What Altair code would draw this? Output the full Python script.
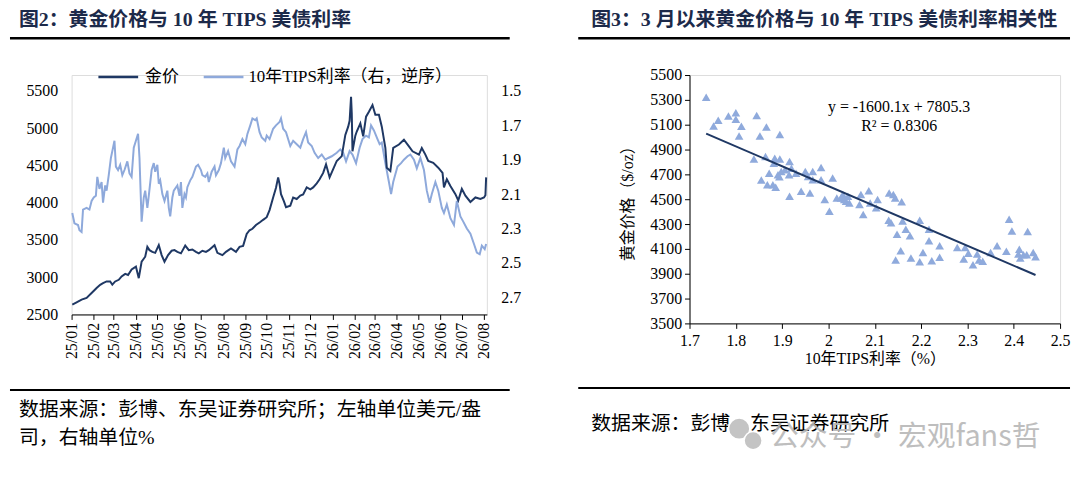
import altair as alt
import pandas as pd

# ---------------- data ----------------
gold_dates = [
    "2025-01-02", "2025-01-08", "2025-01-15", "2025-01-22", "2025-01-29", "2025-02-05", "2025-02-10",
    "2025-02-14", "2025-02-19", "2025-02-24", "2025-02-27", "2025-03-03", "2025-03-08", "2025-03-12",
    "2025-03-17", "2025-03-21", "2025-03-26", "2025-04-01", "2025-04-05", "2025-04-09", "2025-04-14",
    "2025-04-17", "2025-04-20", "2025-04-24", "2025-04-28", "2025-05-03", "2025-05-07", "2025-05-11",
    "2025-05-16", "2025-05-21", "2025-05-25", "2025-05-29", "2025-06-03", "2025-06-09", "2025-06-14",
    "2025-06-19", "2025-06-24", "2025-06-28", "2025-07-03", "2025-07-08", "2025-07-12", "2025-07-20",
    "2025-07-24", "2025-07-31", "2025-08-05", "2025-08-12", "2025-08-19", "2025-08-24", "2025-08-29",
    "2025-09-03", "2025-09-07", "2025-09-11", "2025-09-16", "2025-09-22", "2025-09-26", "2025-10-01",
    "2025-10-05", "2025-10-10", "2025-10-14", "2025-10-17", "2025-10-19", "2025-10-21", "2025-10-25",
    "2025-10-28", "2025-11-03", "2025-11-07", "2025-11-12", "2025-11-17", "2025-11-21", "2025-11-26",
    "2025-12-01", "2025-12-05", "2025-12-10", "2025-12-14", "2025-12-19", "2025-12-23", "2025-12-28",
    "2026-01-02", "2026-01-07", "2026-01-14", "2026-01-19", "2026-01-23", "2026-01-25", "2026-01-27",
    "2026-01-28", "2026-01-29", "2026-02-02", "2026-02-04", "2026-02-09", "2026-02-13", "2026-02-17",
    "2026-02-21", "2026-02-26", "2026-03-02", "2026-03-07", "2026-03-11", "2026-03-16", "2026-03-18",
    "2026-03-23", "2026-03-27", "2026-04-04", "2026-04-11", "2026-04-18", "2026-04-23", "2026-05-02",
    "2026-05-06", "2026-05-11", "2026-05-15", "2026-05-22", "2026-05-29", "2026-06-04", "2026-06-06",
    "2026-06-10", "2026-06-15", "2026-06-22", "2026-06-26", "2026-07-01", "2026-07-06", "2026-07-13",
    "2026-07-20", "2026-07-27", "2026-08-01", "2026-08-03", "2026-08-04",
]
gold_values = [
    2633, 2663, 2699, 2721, 2787, 2854, 2898,
    2920, 2943, 2943, 2899, 2943, 2965, 3010,
    3044, 3030, 3105, 3142, 2987, 3208, 3275,
    3407, 3363, 3340, 3327, 3430, 3297, 3208,
    3297, 3355, 3363, 3340, 3320, 3425, 3363,
    3372, 3340, 3320, 3355, 3340, 3363, 3430,
    3327, 3296, 3340, 3385, 3340, 3407, 3420,
    3580, 3630, 3650, 3700, 3740, 3770, 3805,
    3900, 4070, 4200, 4340, 4250, 4115, 4020,
    3940, 3960, 4070, 4050, 4095, 4110, 4205,
    4180, 4205, 4260, 4315, 4400, 4515, 4340,
    4450, 4560, 4625, 4910, 5020, 5100, 5420,
    5200, 4690, 4900, 4955, 5065, 4890, 5155,
    5220, 5310, 5180, 5180, 5020, 4735, 4470,
    4425, 4735, 4780, 4845, 4755, 4690, 4645,
    4735, 4645, 4560, 4535, 4470, 4400, 4205,
    4315, 4225, 4115, 4030, 4185, 4095, 4010,
    4070, 4050, 4070, 4100, 4340,
]

tips_dates = [
    "2025-01-02", "2025-01-03", "2025-01-05", "2025-01-10", "2025-01-12", "2025-01-15", "2025-01-17",
    "2025-01-22", "2025-01-26", "2025-01-29", "2025-02-01", "2025-02-04", "2025-02-06", "2025-02-09",
    "2025-02-12", "2025-02-14", "2025-02-17", "2025-02-19", "2025-02-22", "2025-02-25", "2025-02-28",
    "2025-03-02", "2025-03-04", "2025-03-07", "2025-03-10", "2025-03-13", "2025-03-16", "2025-03-20",
    "2025-03-23", "2025-03-26", "2025-03-29", "2025-04-01", "2025-04-04", "2025-04-06", "2025-04-09",
    "2025-04-12", "2025-04-14", "2025-04-17", "2025-04-19", "2025-04-23", "2025-04-26", "2025-04-28",
    "2025-05-01", "2025-05-03", "2025-05-05", "2025-05-08", "2025-05-11", "2025-05-15", "2025-05-17",
    "2025-05-19", "2025-05-22", "2025-05-24", "2025-05-29", "2025-06-01", "2025-06-03", "2025-06-05",
    "2025-06-08", "2025-06-10", "2025-06-12", "2025-06-16", "2025-06-19", "2025-06-24", "2025-06-27",
    "2025-07-01", "2025-07-03", "2025-07-07", "2025-07-10", "2025-07-12", "2025-07-16", "2025-07-20",
    "2025-07-22", "2025-07-26", "2025-07-29", "2025-08-02", "2025-08-04", "2025-08-08", "2025-08-12",
    "2025-08-17", "2025-08-21", "2025-08-24", "2025-08-28", "2025-09-01", "2025-09-04", "2025-09-08",
    "2025-09-11", "2025-09-15", "2025-09-17", "2025-09-21", "2025-09-24", "2025-09-29", "2025-10-01",
    "2025-10-05", "2025-10-10", "2025-10-14", "2025-10-19", "2025-10-21", "2025-10-24", "2025-10-28",
    "2025-11-03", "2025-11-07", "2025-11-12", "2025-11-17", "2025-11-21", "2025-11-25", "2025-11-28",
    "2025-12-03", "2025-12-07", "2025-12-12", "2025-12-17", "2025-12-22", "2025-12-26", "2025-12-31",
    "2026-01-07", "2026-01-12", "2026-01-16", "2026-01-20", "2026-01-25", "2026-01-29", "2026-02-03",
    "2026-02-08", "2026-02-12", "2026-02-17", "2026-02-21", "2026-02-24", "2026-02-28", "2026-03-05",
    "2026-03-08", "2026-03-11", "2026-03-16", "2026-03-21", "2026-03-24", "2026-03-27", "2026-04-02",
    "2026-04-07", "2026-04-11", "2026-04-16", "2026-04-20", "2026-04-25", "2026-04-29", "2026-05-04",
    "2026-05-09", "2026-05-13", "2026-05-17", "2026-05-20", "2026-05-25", "2026-05-29", "2026-06-03",
    "2026-06-06", "2026-06-10", "2026-06-15", "2026-06-20", "2026-06-24", "2026-06-29", "2026-07-03",
    "2026-07-08", "2026-07-13", "2026-07-18", "2026-07-22", "2026-07-26", "2026-07-29", "2026-08-02",
    "2026-08-04",
]
tips_values = [
    2.21, 2.23, 2.27, 2.28, 2.31, 2.32, 2.19,
    2.18, 2.19, 2.14, 2.12, 2.11, 2.00, 2.07,
    2.03, 2.15, 2.05, 2.08, 1.99, 1.89, 1.83,
    1.79, 1.94, 1.96, 1.93, 1.99, 1.96, 1.91,
    1.98, 2.00, 1.83, 1.79, 1.75, 1.89, 2.26,
    2.12, 2.08, 2.18, 2.11, 1.96, 1.92, 1.97,
    1.93, 2.04, 2.02, 2.10, 2.14, 2.08, 2.18,
    2.23, 2.12, 2.08, 2.05, 2.11, 2.03, 2.18,
    2.10, 2.12, 2.06, 2.02, 2.00, 1.94, 1.93,
    1.96, 1.99, 2.00, 1.98, 2.03, 1.97, 1.94,
    1.99, 1.96, 1.92, 1.83, 1.89, 1.85, 1.91,
    1.94, 1.84, 1.82, 1.78, 1.81, 1.75, 1.70,
    1.66, 1.67, 1.66, 1.74, 1.77, 1.79, 1.76,
    1.78, 1.72, 1.70, 1.68, 1.66, 1.72, 1.74,
    1.82, 1.79, 1.81, 1.83, 1.78, 1.74, 1.80,
    1.82, 1.86, 1.89, 1.87, 1.90, 1.89, 1.88,
    1.86, 1.84, 1.86, 1.91, 1.85, 1.87, 1.92,
    1.83, 1.78, 1.76, 1.77, 1.70, 1.73, 1.78,
    1.81, 1.80, 1.92, 2.03, 2.10, 2.03, 1.94,
    1.92, 1.90, 1.88, 1.87, 1.90, 1.95, 1.89,
    1.96, 2.08, 2.15, 2.10, 2.03, 2.08, 2.18,
    2.21, 2.16, 2.24, 2.28, 2.14, 2.23, 2.26,
    2.30, 2.33, 2.39, 2.44, 2.45, 2.40, 2.42,
    2.39,
]

scatter_tips = [
    1.736, 1.752, 1.762, 1.784, 1.800, 1.800, 1.812, 1.807, 1.845, 1.852,
    1.866, 1.895, 1.839, 1.864, 1.872, 1.855, 1.868, 1.880, 1.886, 1.884,
    1.895, 1.882, 1.891, 1.898, 1.894, 1.906, 1.916, 1.915, 1.920, 1.930,
    1.916, 1.941, 1.950, 1.956, 1.960, 1.966, 1.966, 1.984, 1.984, 1.992,
    2.002, 2.009, 2.018, 2.027, 2.031, 2.034, 2.038, 2.042, 2.045, 2.067,
    2.070, 2.075, 2.087, 2.090, 2.103, 2.106, 2.131, 2.140, 2.144, 2.130,
    2.135, 2.148, 2.158, 2.160, 2.167, 2.176, 2.156, 2.145, 2.178, 2.197,
    2.197, 2.204, 2.217, 2.217, 2.223, 2.240, 2.240, 2.278, 2.292, 2.295,
    2.302, 2.312, 2.321, 2.325, 2.333, 2.350, 2.364, 2.384, 2.390, 2.396,
    2.410, 2.412, 2.414, 2.421, 2.428, 2.430, 2.442, 2.447,
]
scatter_gold = [
    5322, 5090, 5136, 5170, 5197, 5144, 5088, 5010, 5175, 5010,
    5082, 5021, 4824, 4843, 4710, 4654, 4617, 4617, 4596, 4830,
    4824, 4790, 4697, 4723, 4680, 4737, 4803, 4697, 4750, 4710,
    4524, 4564, 4723, 4683, 4550, 4723, 4657, 4755, 4657, 4497,
    4404, 4670, 4510, 4510, 4537, 4497, 4484, 4524, 4470, 4457,
    4537, 4377, 4569, 4470, 4431, 4497, 4550, 4537, 4510, 4330,
    4311, 4218, 4479, 4324, 4258, 4205, 4085, 4010, 4026, 4330,
    3997, 4071, 4258, 4165, 4005, 4125, 4032, 4112, 4018, 4112,
    4064, 3973, 4058, 4010, 4000, 4071, 4125, 4080, 4338, 4245,
    4058, 4098, 4026, 4053, 4053, 4240, 4071, 4037,
]
reg_slope = -1600.1
reg_intercept = 7805.3
reg_r2 = 0.8306

left_y_ticks = [2500, 3000, 3500, 4000, 4500, 5000, 5500]
right_y_ticks = [1.5, 1.7, 1.9, 2.1, 2.3, 2.5, 2.7]
scatter_x_ticks = [1.7, 1.8, 1.9, 2.0, 2.1, 2.2, 2.3, 2.4, 2.5]
scatter_y_ticks = [3500, 3700, 3900, 4100, 4300, 4500, 4700, 4900, 5100, 5300, 5500]

title_left = "图2：黄金价格与 10 年 TIPS 美债利率"
title_right = "图3：3 月以来黄金价格与 10 年 TIPS 美债利率相关性"
legend_gold = "金价"
legend_tips = "10年TIPS利率（右，逆序）"
source_left_1 = "数据来源：彭博、东吴证券研究所；左轴单位美元/盎"
source_left_2 = "司，右轴单位%"
source_right = "数据来源：彭博、东吴证券研究所"
watermark = "公众号 · 宏观fans哲"
y_title_right = "黄金价格（$/oz）"
x_title_right = "10年TIPS利率（%）"

# ---------------- styling ----------------
NUMF = "Liberation Serif"
CNF = "Liberation Serif, Noto Sans CJK SC"
DARK = "#1F3864"
LIGHT = "#8EA9DB"
TRI = "#8FAADC"
TITLE_C = "#1c2a4a"
FS = 16

gold_df = pd.DataFrame({"date": gold_dates, "gold": gold_values})
tips_df = pd.DataFrame({"date": tips_dates, "tips": tips_values})
sc_df = pd.DataFrame({"tips": scatter_tips, "gold": scatter_gold})
one = pd.DataFrame({"k": [0]})


def txt(t, x, y, size=FS, align="left", color="black", weight="normal", font=CNF, **kw):
    return alt.Chart(one).mark_text(
        text=t, align=align, baseline="middle", fontSize=size, font=font,
        color=color, fontWeight=weight, **kw
    ).encode(x=alt.value(x), y=alt.value(y))


def rule(x1, x2, y, w=1.0, color="black"):
    return alt.Chart(one).mark_rule(color=color, strokeWidth=w).encode(
        x=alt.value(x1), x2=alt.value(x2), y=alt.value(y)
    )


def dot(x, y, size, color):
    return alt.Chart(one).mark_point(
        shape="circle", filled=True, color=color, opacity=1, size=size,
        stroke="white", strokeWidth=1.5,
    ).encode(x=alt.value(x), y=alt.value(y))


# ---------------- left panel ----------------
# plot group origin shares the top with the right panel; the line area sits 16 px lower
LW, LH, LTOP = 418, 241, 16
xdom = [alt.DateTime(year=2025, month=1, date=1, utc=True),
        alt.DateTime(year=2026, month=8, date=5, utc=True)]
xenc = alt.X(
    "date:T",
    scale=alt.Scale(type="utc", domain=xdom),
    axis=alt.Axis(
        title=None, tickCount={"interval": "month", "step": 1},
        labelExpr="utcFormat(datum.value, '%y/%m')", labelAngle=270,
        labelFont=NUMF, labelFontSize=FS, labelColor="black", labelPadding=3,
        domainColor="black", tickColor="black", tickSize=5, grid=False,
        labelOverlap=False, labelBound=False, labelFlush=False,
    ),
)

tips_line = alt.Chart(tips_df).mark_line(color=LIGHT, strokeWidth=2).encode(
    x=xenc,
    y=alt.Y(
        "tips:Q",
        scale=alt.Scale(domain=[1.5, 2.8], range=[LTOP, LH], nice=False, zero=False),
        axis=alt.Axis(
            orient="right", title=None, values=right_y_ticks, format=".1f",
            domain=False, ticks=False, grid=False, labelFont=NUMF, labelFontSize=FS,
            labelColor="black", labelPadding=14, labelOverlap=False,
        ),
    ),
)
gold_line = alt.Chart(gold_df).mark_line(color=DARK, strokeWidth=2).encode(
    x=xenc,
    y=alt.Y(
        "gold:Q",
        scale=alt.Scale(domain=[2500, 5500], range=[LH, LTOP], nice=False, zero=False),
        axis=alt.Axis(
            orient="left", title=None, values=left_y_ticks, format="d", domain=False,
            ticks=False, grid=False, labelFont=NUMF, labelFontSize=FS,
            labelColor="black", labelPadding=14, labelOverlap=False,
        ),
    ),
)

left_deco = [
    txt(title_left, -53, -55, size=20, weight="bold", color=TITLE_C),
    rule(-62, 441, -37, w=2.5),
    rule(27, 67, 2, w=2.5, color=DARK),
    txt(legend_gold, 74, 2, size=17),
    rule(133, 173, 2, w=2.5, color=LIGHT),
    txt(legend_tips, 178, 2, size=17),
    rule(-62, 441, 317, w=2),
    txt(source_left_1, -53, 337, size=20),
    txt(source_left_2, -53, 365, size=20),
]

left = alt.layer(tips_line, gold_line, *left_deco).resolve_scale(
    y="independent"
).properties(width=LW, height=LH)

# ---------------- right panel ----------------
RW, RH = 373, 250
sx = alt.X(
    "tips:Q",
    scale=alt.Scale(domain=[1.7, 2.5], nice=False, zero=False),
    axis=alt.Axis(
        title=x_title_right, values=scatter_x_ticks, format="~g", grid=False,
        domainColor="black", tickColor="black", tickSize=5, labelFont=NUMF,
        labelFontSize=FS, labelColor="black", labelPadding=4, labelOverlap=False,
        titleFont=CNF, titleFontSize=FS, titleFontWeight="normal", titleColor="black",
        titlePadding=2, labelFlush=False,
    ),
)
sy = alt.Y(
    "gold:Q",
    scale=alt.Scale(domain=[3500, 5500], nice=False, zero=False),
    axis=alt.Axis(
        title=y_title_right, values=scatter_y_ticks, format="d", grid=False,
        domainColor="black", tickColor="black", tickSize=5, labelFont=NUMF,
        labelFontSize=FS, labelColor="black", labelPadding=3, labelOverlap=False,
        titleFont=CNF, titleFontSize=FS, titleFontWeight="normal", titleColor="black",
        titlePadding=14,
    ),
)

points = alt.Chart(sc_df).mark_point(
    shape="triangle-up", filled=True, color=TRI, opacity=1, size=76
).encode(x=sx, y=sy)

reg = alt.Chart(sc_df).transform_aggregate(
    xmin="min(tips)", xmax="max(tips)"
).transform_fold(["xmin", "xmax"], as_=["end", "tips"]).transform_calculate(
    gold=f"{reg_slope} * datum.tips + {reg_intercept}"
).mark_line(color=DARK, strokeWidth=2).encode(x=sx, y=sy)

eq_text = f"y = {reg_slope}x + {reg_intercept}"
r2_text = f"R² = {reg_r2}"

right_deco = [
    txt(title_right, -99, -55, size=20, weight="bold", color=TITLE_C, limit=482, ellipsis=" "),
    rule(-112, 383, -37, w=2.5),
    txt(eq_text, 211, 32, size=FS, align="center", font=NUMF),
    txt(r2_text, 211, 51, size=FS, align="center", font=NUMF),
    rule(-112, 383, 315, w=2),
    txt(source_right, -99, 351, size=20),
    dot(50, 356, 460, "#c4c4c4"),
    dot(64, 368, 330, "#c4c4c4"),
    txt(watermark, 81, 364, size=29, color="#b8b8b8", font="Noto Sans CJK SC", opacity=0.9),
]

right = alt.layer(points, reg, *right_deco).properties(width=RW, height=RH)

chart = alt.hconcat(left, right, spacing=55).properties(
    padding={"left": 0, "top": 0, "right": 0, "bottom": 0}
).configure_view(stroke=None).configure(background="white")

chart.save("out.html", embed_options={"renderer": "svg", "actions": False})
